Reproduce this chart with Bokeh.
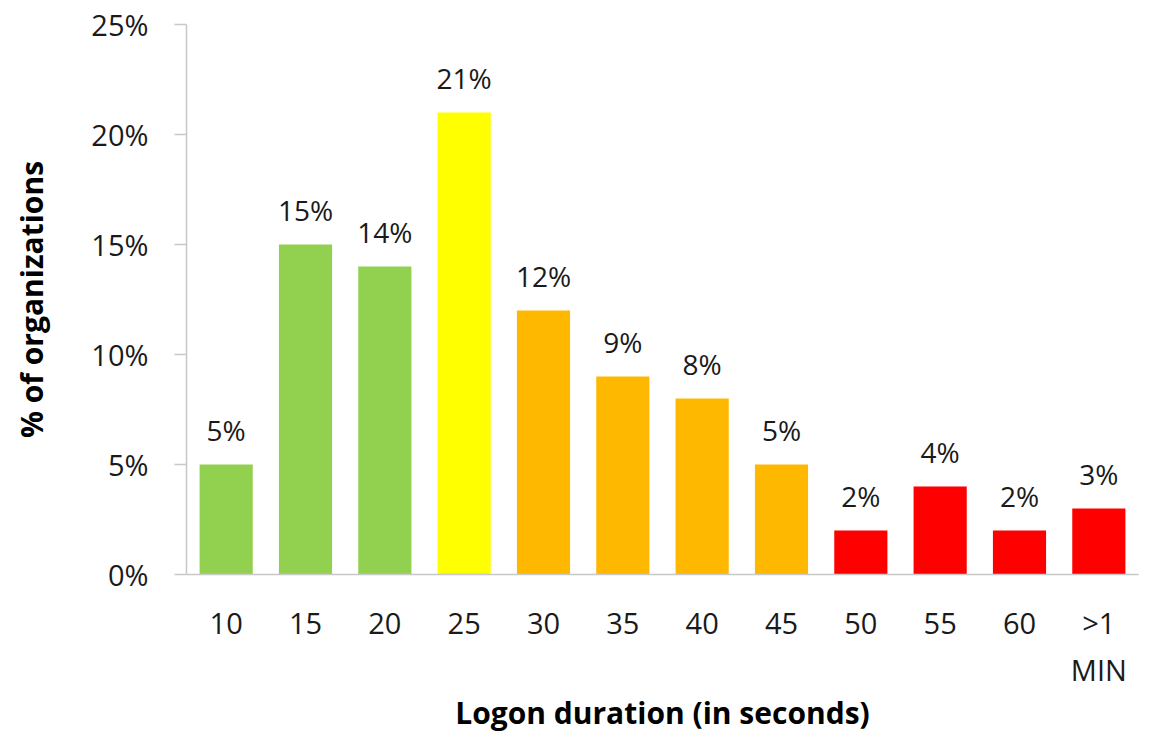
from bokeh.plotting import figure
from bokeh.models import ColumnDataSource, Range1d, FixedTicker, LabelSet
from bokeh.core.properties import value
from bokeh.transform import dodge
from bokeh.embed import file_html
from bokeh.resources import INLINE

categories = ["10", "15", "20", "25", "30", "35", "40", "45", "50", "55", "60", ">1\nMIN"]
values = [5, 15, 14, 21, 12, 9, 8, 5, 2, 4, 2, 3]
colors = ["#92D050", "#92D050", "#92D050", "#FFFF00", "#FFB800", "#FFB800", "#FFB800",
          "#FFB800", "#FF0000", "#FF0000", "#FF0000", "#FF0000"]
labels = [f"{v}%" for v in values]
y_ticks = [0, 5, 10, 15, 20, 25]

FONT = "Open Sans"
TXT = "#1A1A1A"
AXIS = "#C8C8C8"

src = ColumnDataSource(dict(cat=categories, val=values, color=colors, lab=labels))

p = figure(x_range=categories, y_range=Range1d(0, 25),
           frame_width=952, frame_height=550,
           output_backend="svg", toolbar_location=None,
           min_border_left=186, min_border_right=16, min_border_top=24, min_border_bottom=0)
p.outline_line_color = None
p.grid.grid_line_color = None

p.vbar(x="cat", top="val", width=0.67, color="color", source=src, line_color=None)

lbl = LabelSet(x="cat", y="val", text="lab", source=src, text_align="center",
               text_baseline="bottom", y_offset=16, text_font=value(FONT),
               text_font_size="28px", text_color=TXT)
p.add_layout(lbl)

p.yaxis.ticker = FixedTicker(ticks=y_ticks)
p.yaxis.major_label_overrides = {t: f"{t}%" for t in y_ticks}
p.yaxis.minor_tick_line_color = None
p.yaxis.major_tick_in = 0
p.yaxis.major_tick_out = 12
p.yaxis.axis_line_color = AXIS
p.yaxis.major_tick_line_color = AXIS
p.yaxis.axis_line_width = 1.5
p.yaxis.major_tick_line_width = 1.5
p.yaxis.major_label_text_font = FONT
p.yaxis.major_label_text_font_size = "29px"
p.yaxis.major_label_text_color = TXT
p.yaxis.major_label_standoff = 26
p.yaxis.axis_label = "% of organizations"
p.yaxis.axis_label_text_font = FONT
p.yaxis.axis_label_text_font_style = "bold"
p.yaxis.axis_label_text_font_size = "30px"
p.yaxis.axis_label_text_color = "#000000"
p.yaxis.axis_label_standoff = 36

p.xaxis.axis_line_color = AXIS
p.xaxis.axis_line_width = 1.5
p.xaxis.major_tick_line_color = None
p.xaxis.major_tick_in = 0
p.xaxis.major_tick_out = 0
p.xaxis.major_label_text_font = FONT
p.xaxis.major_label_text_font_size = "29px"
p.xaxis.major_label_text_color = TXT
p.xaxis.major_label_text_line_height = 1.23
p.xaxis.major_label_standoff = 28
p.xaxis.axis_label = "Logon duration (in seconds)"
p.xaxis.axis_label_text_font = FONT
p.xaxis.axis_label_text_font_style = "bold"
p.xaxis.axis_label_text_font_size = "30px"
p.xaxis.axis_label_text_color = "#000000"
p.xaxis.axis_label_standoff = 0

# tick marks at category boundaries
tick_src = ColumnDataSource(dict(x=categories))
p.segment(x0=dodge("x", -0.5, range=p.x_range), y0=0, x1=dodge("x", -0.5, range=p.x_range),
          y1=-0.55, source=tick_src, line_color=AXIS, line_width=1.5)
last_src = ColumnDataSource(dict(x=[categories[-1]]))
p.segment(x0=dodge("x", 0.5, range=p.x_range), y0=0, x1=dodge("x", 0.5, range=p.x_range),
          y1=-0.55, source=last_src, line_color=AXIS, line_width=1.5)

open("out.html", "w").write(file_html(p, INLINE))
